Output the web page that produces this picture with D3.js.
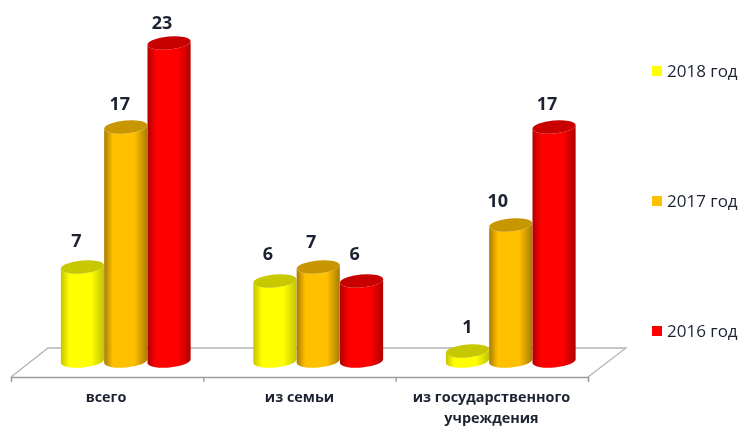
<!DOCTYPE html>
<html lang="ru">
<head>
<meta charset="utf-8">
<script src="https://cdn.jsdelivr.net/npm/d3@7"></script>
<style>
html,body{margin:0;padding:0;background:#fff}
svg{display:block}
text{font-family:"Open Sans","Noto Sans",sans-serif}
</style>
</head>
<body>
<svg id="chart" width="742" height="426"></svg>
<script>
const categories = [["всего"], ["из семьи"], ["из государственного", "учреждения"]];
const seriesNames = ["2018 год", "2017 год", "2016 год"];
const values2018 = [7, 6, 1];
const values2017 = [17, 7, 10];
const values2016 = [23, 6, 17];
const seriesValues = [values2018, values2017, values2016];
const bodyColors = ["#ffff00", "#ffc000", "#ff0000"];
const edgeColors = ["#c4c400", "#a87c00", "#b00000"];
const capColors = ["#c8c800", "#c89600", "#c80000"];
const labelNudges = [[-6, -6, -7], [-7, -7, -7], [0, -13, -7]];
const labelLifts = [[20, 17, 14], [21, 19, 21], [18, 18, 17]];
const categoryCenters = [106, 299.5, 491.5];
const legendY = [71, 201, 331];

const W = 742, H = 426;
const floor = {fl: 11, fr: 588, bl: 48, br: 626, fy: 377, by: 348};
const svg = d3.select("#chart").attr("viewBox", [0, 0, W, H]);
const defs = svg.append("defs");
const soft = defs.append("filter").attr("id", "soft")
  .attr("x", "-5%").attr("y", "-5%").attr("width", "110%").attr("height", "110%");
soft.append("feGaussianBlur").attr("stdDeviation", 0.5);

bodyColors.forEach((c, i) => {
  const g = defs.append("linearGradient").attr("id", "cyl" + i)
    .attr("x1", 0).attr("x2", 1).attr("y1", 0).attr("y2", 0);
  [[0, edgeColors[i]], [0.2, c], [0.7, c], [1, edgeColors[i]]].forEach(([o, col]) =>
    g.append("stop").attr("offset", o).attr("stop-color", col));
});

const root = svg.append("g").attr("filter", "url(#soft)");

// Scales
const x0 = d3.scaleBand().domain(d3.range(categories.length))
  .range([(floor.fl + floor.bl) / 2, (floor.fr + floor.br) / 2]).paddingInner(0.325).paddingOuter(0.1625);
const x1 = d3.scaleBand().domain(d3.range(seriesNames.length)).range([0, x0.bandwidth()]);
const y = d3.scaleLinear().domain([0, 23]).range([365, 43]);
const frontX = d3.scaleLinear().domain([0, categories.length]).range([floor.fl, floor.fr]);

// Floor
root.append("path")
  .attr("d", `M${floor.fl},${floor.fy}L${floor.bl},${floor.by}L${floor.br},${floor.by}L${floor.fr},${floor.fy}`)
  .attr("fill", "none").attr("stroke", "#b4b4b4").attr("stroke-width", 1.3);

const axis = d3.axisBottom(frontX).ticks(categories.length).tickSize(5).tickFormat("");
const axisG = root.append("g").attr("transform", `translate(0,${floor.fy})`).call(axis);
axisG.selectAll("path,line").attr("stroke", "#9c9c9c").attr("stroke-width", 1.3);

// Cylinders
const tilt = -5 * Math.PI / 180, ry = 6.5, baseLift = 4;
function ends(cx, cy, rx) {
  const dx = rx * Math.cos(tilt), dy = rx * Math.sin(tilt);
  return {x1: cx - dx, y1: cy - dy, x2: cx + dx, y2: cy + dy};
}
function bodyPath(cx, top, bottom, rx) {
  const t = ends(cx, top, rx), b = ends(cx, bottom, rx);
  return `M${t.x1},${t.y1}L${b.x1},${b.y1}A${rx},${ry},-5,0,0,${b.x2},${b.y2}L${t.x2},${t.y2}A${rx},${ry},-5,0,1,${t.x1},${t.y1}Z`;
}
function capPath(cx, top, rx) {
  const t = ends(cx, top, rx);
  return `M${t.x1},${t.y1}A${rx},${ry},-5,0,1,${t.x2},${t.y2}A${rx},${ry},-5,0,1,${t.x1},${t.y1}Z`;
}

const marks = [];
categories.forEach((c, ci) => seriesNames.forEach((s, si) =>
  marks.push({ci, si, v: seriesValues[si][ci]})));

const bars = root.append("g").selectAll("g").data(marks).join("g");
const cx = d => x0(d.ci) + x1(d.si) + x1.bandwidth() / 2;
const rx = x1.bandwidth() / 2;
bars.append("path")
  .attr("d", d => bodyPath(cx(d), y(d.v), y(0) - baseLift, rx))
  .attr("fill", d => `url(#cyl${d.si})`);
bars.append("path")
  .attr("d", d => capPath(cx(d), y(d.v), rx))
  .attr("fill", d => capColors[d.si]);

// Value labels
root.append("g").selectAll("text").data(marks).join("text")
  .attr("x", d => cx(d) + labelNudges[d.ci][d.si])
  .attr("y", d => y(d.v) - labelLifts[d.ci][d.si])
  .attr("text-anchor", "middle")
  .attr("font-size", 18).attr("font-weight", 700).attr("fill", "#1c2433")
  .text(d => d.v);

// Category labels
const catG = root.append("g").selectAll("text").data(categories).join("text")
  .attr("text-anchor", "middle").attr("font-size", 14.4).attr("font-weight", 700).attr("fill", "#1c2433");
catG.selectAll("tspan").data((d, i) => d.map(t => ({t, i}))).join("tspan")
  .attr("x", d => categoryCenters[d.i])
  .attr("y", (d, j) => 402 + j * 21)
  .text(d => d.t);

// Legend
const leg = root.append("g").selectAll("g").data(seriesNames).join("g")
  .attr("transform", (d, i) => `translate(652,${legendY[i]})`);
leg.append("rect").attr("y", -5).attr("width", 10).attr("height", 10)
  .attr("fill", (d, i) => bodyColors[i]);
leg.append("text").attr("x", 15).attr("y", 6)
  .attr("font-size", 17).attr("fill", "#1c2433").text(d => d);
</script>
</body>
</html>
